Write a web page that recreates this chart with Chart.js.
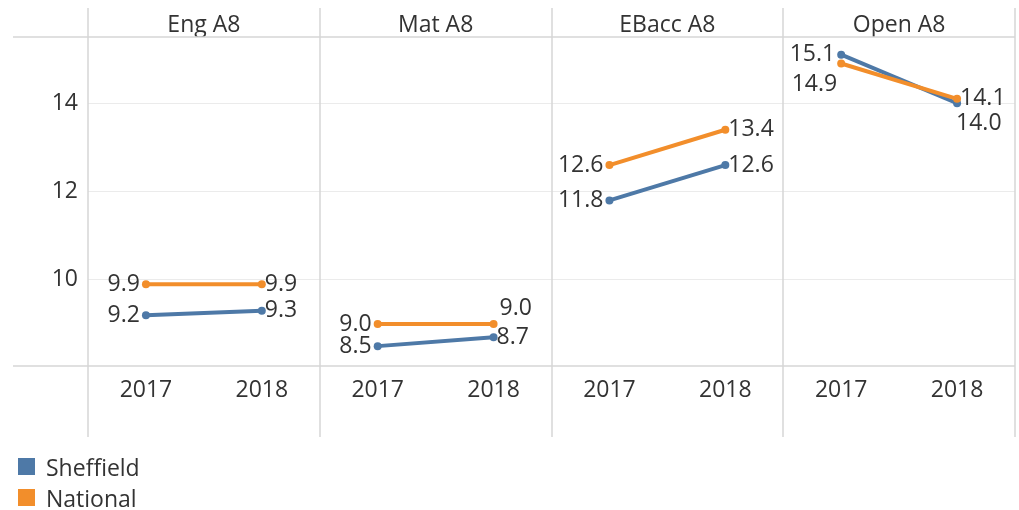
<!DOCTYPE html>
<html lang="en">
<head>
<meta charset="UTF-8">
<title>A8 - Sheffield vs National</title>
<script src="https://cdn.jsdelivr.net/npm/chart.js"></script>
<style>
  body { margin: 0; background: #fff; }
  #wrap { position: relative; width: 1019px; height: 510px; }
  #legend { position: absolute; left: 18px; top: 451px; font: 23px "Open Sans", sans-serif; color: #333; }
  .item { display: flex; align-items: center; height: 31px; }
  .box { width: 17px; height: 17px; margin-right: 11px; }
</style>
</head>
<body>
<div id="wrap">
  <canvas id="myChart" width="1019" height="510"></canvas>
  <div id="legend"></div>
</div>
<script>
var panels = ['Eng A8', 'Mat A8', 'EBacc A8', 'Open A8'];
var years = ['2017', '2018'];
var seriesNames = ['Sheffield', 'National'];
var sheffield = [9.2, 9.3, 8.5, 8.7, 11.8, 12.6, 15.1, 14.0];
var national = [9.9, 9.9, 9.0, 9.0, 12.6, 13.4, 14.9, 14.1];
var yTicks = [10, 12, 14];
// where each value label sits next to its point
var sheffieldPos = ['left', 'right', 'left', 'right', 'left', 'right', 'left', 'belowRight'];
var nationalPos = ['left', 'right', 'left', 'aboveRight', 'left', 'right', 'belowLeft', 'right'];

var blue = '#4e79a7';
var orange = '#f28e2b';
var font = { family: '"Open Sans", sans-serif', size: 23 };

var xLabels = [];
panels.forEach(function () { years.forEach(function (y) { xLabels.push(y); }); });

function series(name, data, color, pos, order) {
    return {
        label: name,
        data: data,
        labelPos: pos,
        order: order,
        borderColor: color,
        backgroundColor: color,
        borderWidth: 4,
        pointRadius: 4,
        pointBorderWidth: 0,
        pointBackgroundColor: color,
        // no line between the last year of one panel and the first of the next
        segment: {
            borderColor: function (ctx) { return ctx.p0DataIndex % 2 ? 'rgba(0,0,0,0)' : color; }
        }
    };
}

var frame = {
    id: 'frame',
    beforeDatasetsDraw: function (chart) {
        var c = chart.ctx, a = chart.chartArea;
        var w = (a.right - a.left) / panels.length;
        c.save();
        c.strokeStyle = '#d6d6d6';
        c.lineWidth = 1.5;
        c.beginPath();
        for (var i = 0; i <= panels.length; i++) {
            var x = Math.round(a.left + i * w);
            c.moveTo(x, 8);
            c.lineTo(x, 437);
        }
        c.moveTo(13, a.top); c.lineTo(a.right, a.top);
        c.moveTo(13, a.bottom); c.lineTo(a.right, a.bottom);
        c.stroke();
        c.restore();
    },
    afterDatasetsDraw: function (chart) {
        var c = chart.ctx;
        c.save();
        c.font = '23px "Open Sans", sans-serif';
        c.fillStyle = '#333';
        c.textBaseline = 'middle';
        chart.data.datasets.forEach(function (ds, di) {
            chart.getDatasetMeta(di).data.forEach(function (pt, i) {
                var x = pt.x, y = pt.y, pos = ds.labelPos[i];
                if (pos === 'left') { c.textAlign = 'right'; x -= 6; }
                else if (pos === 'right') { c.textAlign = 'left'; x += 3; }
                else if (pos === 'aboveRight') { c.textAlign = 'left'; x += 6; y -= 16; }
                else if (pos === 'belowLeft') { c.textAlign = 'right'; x -= 4; y += 21; }
                else if (pos === 'belowRight') { c.textAlign = 'left'; x -= 1; y += 20; }
                c.fillText(ds.data[i].toFixed(1), x, y);
            });
        });
        c.restore();
    }
};

var config = {
    type: 'line',
    data: {
        labels: xLabels,
        datasets: [
            series(seriesNames[0], sheffield, blue, sheffieldPos, 1),
            series(seriesNames[1], national, orange, nationalPos, 0)
        ]
    },
    options: {
        responsive: false,
        animation: false,
        layout: { padding: { left: 0, right: 1, top: 0, bottom: 0 } },
        plugins: { legend: { display: false } },
        scales: {
            x: {
                type: 'category',
                offset: true,
                grid: { display: false },
                border: { display: false },
                ticks: { font: font, color: '#333', padding: 3, maxRotation: 0, autoSkip: false },
                afterFit: function (s) { s.height = 144; }
            },
            x2: {
                type: 'category',
                position: 'top',
                labels: panels,
                offset: true,
                grid: { display: false },
                border: { display: false },
                ticks: { font: font, color: '#333', padding: -10, maxRotation: 0 },
                afterFit: function (s) { s.height = 37; }
            },
            y: {
                min: 8.05,
                max: 15.5,
                grid: { color: '#ebebeb', drawTicks: false },
                border: { display: false },
                ticks: { font: font, color: '#333', padding: 10 },
                afterBuildTicks: function (s) { s.ticks = yTicks.map(function (v) { return { value: v }; }); },
                afterFit: function (s) { s.width = 88; }
            }
        }
    },
    plugins: [frame]
};

window.onload = function () {
    var ctx = document.getElementById('myChart').getContext('2d');
    window.myChart = new Chart(ctx, config);

    var legend = document.getElementById('legend');
    [blue, orange].forEach(function (col, i) {
        var row = document.createElement('div');
        row.className = 'item';
        row.innerHTML = '<span class="box" style="background:' + col + '"></span>' + seriesNames[i];
        legend.appendChild(row);
    });
};
</script>
</body>
</html>
